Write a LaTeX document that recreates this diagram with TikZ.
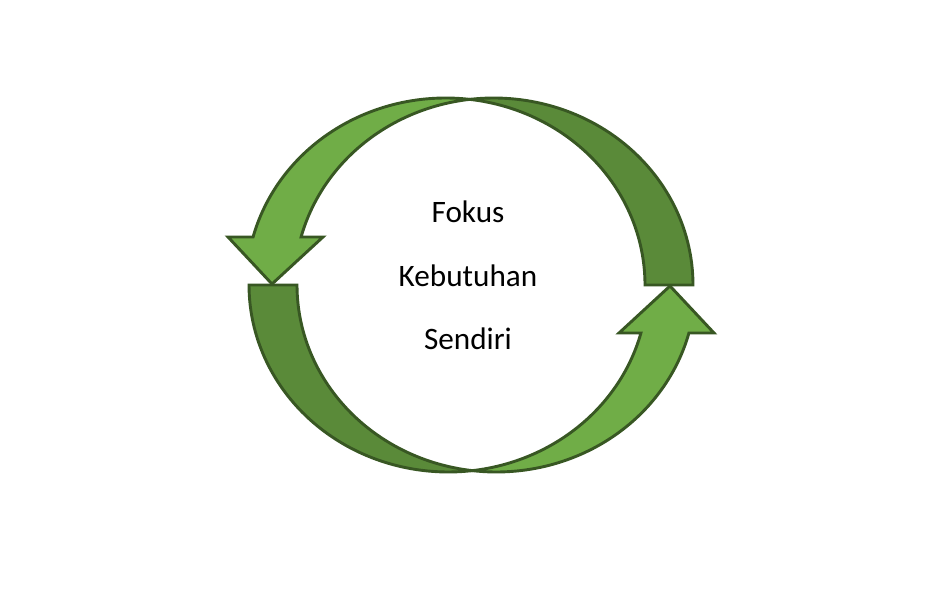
\documentclass[tikz,border=0pt]{standalone}
\usepackage{fontspec}
\setmainfont{Carlito}
\definecolor{lightg}{HTML}{70AD47}
\definecolor{darkg}{HTML}{5A8A39}
\definecolor{edgeg}{HTML}{385723}
\tikzset{
  frontface/.style={fill=lightg, draw=edgeg, line width=1.45pt, line join=miter},
  backface/.style={fill=darkg, draw=edgeg, line width=1.45pt, line join=miter},
  lbl/.style={font=\fontsize{15.6}{18}\selectfont, anchor=base, inner sep=0pt, text=black}
}
\newcommand\archarrow{%
  \path[backface]
    plot[domain=96.92:0, samples=60, variable=\t] ({493.7+199.3*cos(\t)}, {285-187*sin(\t)})
    -- (645.0,285)
    -- plot[domain=0:83.08, samples=60, variable=\t] ({445.7+199.3*cos(\t)}, {285-187*sin(\t)})
    -- cycle;
  \path[frontface]
    plot[domain=83.08:165.13, samples=60, variable=\t] ({445.7+199.3*cos(\t)}, {285-187*sin(\t)})
    -- (228,237) -- (272,284) -- (323,237)
    -- plot[domain=165.13:96.92, samples=60, variable=\t] ({493.7+199.3*cos(\t)}, {285-187*sin(\t)})
    -- cycle;
}
\begin{document}
\begin{tikzpicture}[x=0.5pt, y=-0.5pt]
  \useasboundingbox (0,0) rectangle (945,603);
  \fill[white] (0,0) rectangle (945,603);
  \begin{scope}
    \archarrow
  \end{scope}
  \begin{scope}[rotate around={180:(471,285)}]
    \archarrow
  \end{scope}
  \node[lbl] (fokus) at (468,223) {Fokus};
  \node[lbl] (kebutuhan) at (468,287) {Kebutuhan};
  \node[lbl] (sendiri) at (468,350) {Sendiri};
\end{tikzpicture}
\end{document}
